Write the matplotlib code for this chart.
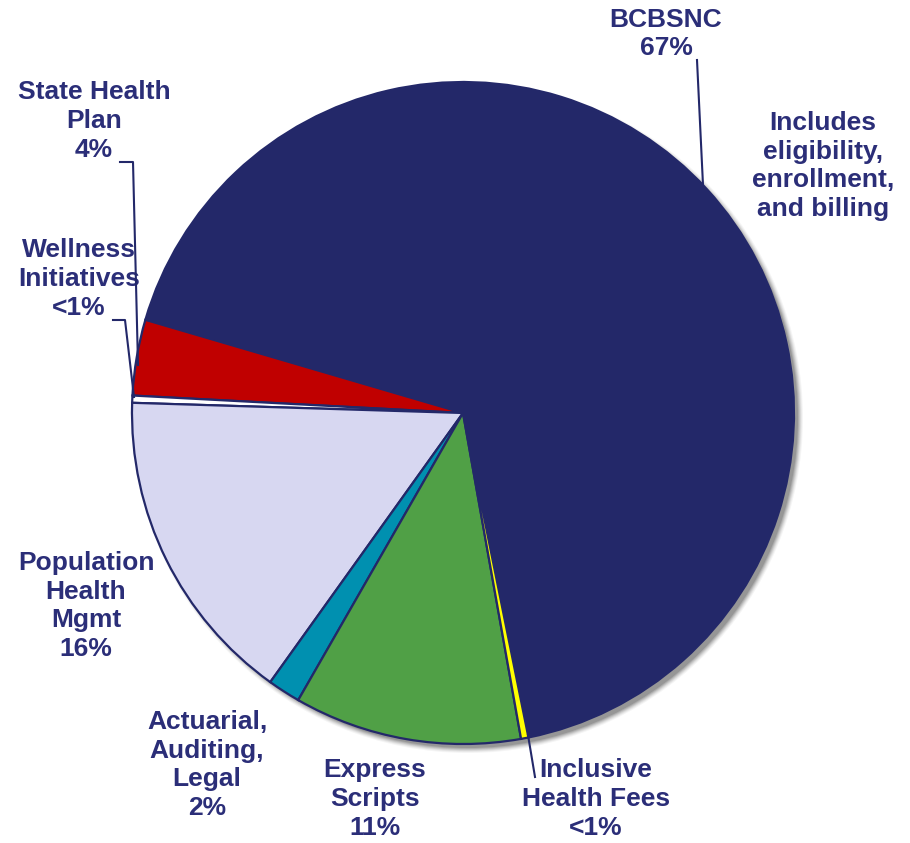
import matplotlib.pyplot as plt
from matplotlib.patches import Circle

# slice shares (percent), counter-clockwise from BCBSNC
segments = ['BCBSNC', 'State Health Plan', 'Wellness Initiatives', 'Population Health Mgmt',
            'Actuarial, Auditing, Legal', 'Express Scripts', 'Inclusive Health Fees']
shares = [67.3, 3.7, 0.35, 15.6, 1.6, 11.1, 0.36]
colors = ['#232869', '#C00000', '#FFFFFF', '#D7D7F1', '#0090B0', '#50A046', '#FFFF00']

labels = ['BCBSNC\n67%', 'State Health\nPlan\n4%', 'Wellness\nInitiatives\n<1%',
          'Population\nHealth\nMgmt\n16%', 'Actuarial,\nAuditing,\nLegal\n2%',
          'Express\nScripts\n11%', 'Inclusive\nHealth Fees\n<1%']
note = 'Includes\neligibility,\nenrollment,\nand billing'

navy = '#232869'
txt_col = '#2B2E78'

fig = plt.figure(figsize=(9.10, 8.43), dpi=100)
ax = fig.add_axes([0, 0, 1, 1])

cx, cy, r = 463, 413, 331

# soft shadow behind the pie
for i, a in enumerate([0.04, 0.05, 0.07, 0.09, 0.11, 0.13]):
    ax.add_patch(Circle((cx + 5, cy + 5), r + 4 - i, color='#000000', alpha=a, lw=0, zorder=0))
ax.add_patch(Circle((cx, cy), r, color='white', lw=0, zorder=0.5))

# y axis is flipped (pixel coords), so clockwise in data = counter-clockwise on screen
ax.pie(shares, colors=colors, startangle=78.6, counterclock=False,
       center=(cx, cy), radius=r,
       wedgeprops=dict(edgecolor=navy, linewidth=1.6, zorder=1))

font = dict(family='Liberation Sans', weight='bold', size=19, color=txt_col,
            ha='center', va='center', linespacing=1.25)
pos = [(666, 34), (94, 121), (79, 279), (86, 606), (207, 765), (375, 799), (596, 799)]
for (x, y), lab in zip(pos, labels):
    ax.text(x, y, lab, **font)
ax.text(823, 166, note, **font)

# leader lines
leaders = [
    ([697, 703], [60, 185]),
    ([120, 133, 138], [162, 162, 365]),
    ([113, 125, 134], [320, 320, 397]),
    ([528, 535], [735, 777]),
]
for xs, ys in leaders:
    ax.plot(xs, ys, color=navy, lw=1.5, zorder=3)

ax.set_xlim(0, 910)
ax.set_ylim(843, 0)
ax.set_aspect('equal')
ax.axis('off')

fig.savefig('out.png', dpi=100)
